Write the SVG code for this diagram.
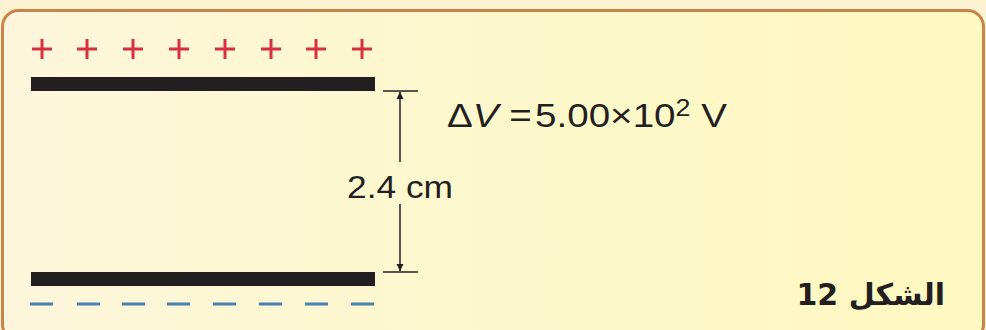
<svg xmlns="http://www.w3.org/2000/svg" width="986" height="330" viewBox="0 0 986 330">
<defs>
<linearGradient id="bg" x1="0" y1="0" x2="1" y2="0">
<stop offset="0" stop-color="#fdf6dc"/>
<stop offset="0.5" stop-color="#fdf8cc"/>
<stop offset="1" stop-color="#fef9c0"/>
</linearGradient>
<marker id="arr" viewBox="0 0 10 10" refX="10" refY="5" markerWidth="7" markerHeight="12" markerUnits="userSpaceOnUse" orient="auto">
<path d="M0,0 L10,5 L0,10 Z" fill="#231f20"/>
</marker>
</defs>
<style>
.plate{fill:#231f20}
.plus{stroke:#d9303f;stroke-width:3;fill:none}
.minus{stroke:#4a7fb0;stroke-width:3;fill:none}
.dim{stroke:#231f20;stroke-width:1.5;fill:none}
.lbl{font-family:"Liberation Sans",Arial,sans-serif;fill:#231f20}
</style>
<rect x="0" y="0" width="986" height="330" fill="#fbf3d2"/>
<rect x="2.5" y="10.5" width="981" height="330" rx="16" fill="url(#bg)" stroke="#c8844a" stroke-width="3"/>
<g id="plus-charges">
<path class="plus" d="M32,49h20M42,39v20 M77,49h20M87,39v20 M123,49h20M133,39v20 M169,49h20M179,39v20 M215,49h20M225,39v20 M261,49h20M271,39v20 M306,49h20M316,39v20 M352,49h20M362,39v20"/>
</g>
<g id="top-plate"><rect class="plate" x="31" y="77" width="344" height="14"/></g>
<g id="bottom-plate"><rect class="plate" x="31" y="272" width="344" height="14"/></g>
<g id="minus-charges">
<path class="minus" d="M30,304h23 M77,304h23 M122,304h23 M167,304h23 M213,304h23 M259,304h23 M305,304h23 M351,304h23"/>
</g>
<g id="connectors">
<line class="dim" x1="383" y1="91" x2="418" y2="91"/>
<line class="dim" x1="383" y1="272" x2="418" y2="272"/>
<line class="dim" x1="400" y1="162" x2="400" y2="92" marker-end="url(#arr)"/>
<line class="dim" x1="400" y1="204" x2="400" y2="271" marker-end="url(#arr)"/>
</g>
<g id="distance-label">
<text class="lbl" x="347" y="198" font-size="31" textLength="106" lengthAdjust="spacingAndGlyphs">2.4 cm</text>
</g>
<g id="voltage-label">
<text class="lbl" x="447" y="127" font-size="33" textLength="280" lengthAdjust="spacingAndGlyphs">Δ<tspan font-style="italic">V</tspan> =&#8202;5.00×10<tspan font-size="23" dy="-11">2</tspan><tspan dy="11"> V</tspan></text>
</g>
<g id="figure-label">
<text x="945" y="305" font-family="'DejaVu Sans','Noto Sans',sans-serif" font-weight="bold" font-size="30" fill="#231f20" direction="rtl" text-anchor="start">الشكل 12</text>
</g>
</svg>
